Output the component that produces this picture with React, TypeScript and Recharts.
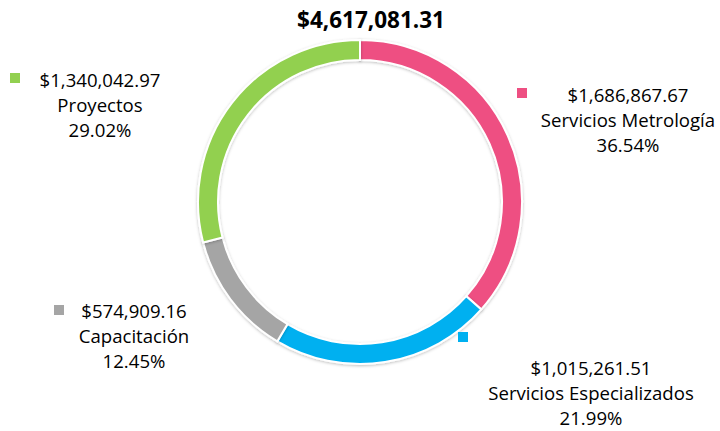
import { PieChart, Pie, Cell } from 'recharts';

const CATEGORIES = ['Servicios Metrología', 'Servicios Especializados', 'Capacitación', 'Proyectos'];
const AMOUNTS = [1686867.67, 1015261.51, 574909.16, 1340042.97];
const COLORS = ['#EE4F82', '#00B0F0', '#A5A5A5', '#92D050'];

// where Excel left each data label (key square + centred text block)
const LABEL_SPOTS = [
  { kx: 517, ky: 88, tx: 628, ty: 102 },
  { kx: 458, ky: 332, tx: 591, ty: 375 },
  { kx: 54, ky: 305, tx: 134, ty: 318 },
  { kx: 10, ky: 73, tx: 100, ty: 87 },
];

const FONT = '"Open Sans", "Liberation Sans", sans-serif';

const money = (v: number) =>
  '$' + v.toLocaleString('en-US', { minimumFractionDigits: 2, maximumFractionDigits: 2 });

const total = AMOUNTS.reduce((a, b) => a + b, 0);

const data = CATEGORIES.map((c, i) => ({ name: c, value: AMOUNTS[i] }));

function renderLabel(props: any) {
  const i = props.index;
  const spot = LABEL_SPOTS[i];
  const pct = ((AMOUNTS[i] / total) * 100).toFixed(2) + '%';
  return (
    <g key={'lbl' + i}>
      <rect x={spot.kx} y={spot.ky} width={10} height={10} fill={COLORS[i]} />
      <text
        x={spot.tx}
        y={spot.ty}
        textAnchor="middle"
        fill="#000"
        style={{ fontFamily: FONT, fontSize: 18.6 }}
      >
        <tspan x={spot.tx} dy={0}>{money(AMOUNTS[i])}</tspan>
        <tspan x={spot.tx} dy={25}>{CATEGORIES[i]}</tspan>
        <tspan x={spot.tx} dy={25}>{pct}</tspan>
      </text>
    </g>
  );
}

export default function App() {
  return (
    <div style={{ position: 'absolute', left: 0, top: 0, width: 720, height: 431, background: '#fff' }}>
      <PieChart width={720} height={431} margin={{ top: 0, right: 0, bottom: 0, left: 0 }}>
        <defs>
          <filter id="ringShadow" x="-10%" y="-10%" width="120%" height="120%">
            <feDropShadow dx="0" dy="1" stdDeviation="1.5" floodColor="#000" floodOpacity="0.25" />
          </filter>
        </defs>
        <text
          x={371}
          y={28}
          textAnchor="middle"
          fill="#000"
          style={{ fontFamily: FONT, fontSize: 22.5, fontWeight: 700 }}
        >
          {money(total)}
        </text>
        <Pie
          data={data}
          dataKey="value"
          nameKey="name"
          cx={360}
          cy={202}
          innerRadius={142}
          outerRadius={162}
          startAngle={90}
          endAngle={-270}
          stroke="#fff"
          strokeWidth={2}
          filter="url(#ringShadow)"
          label={renderLabel}
          labelLine={false}
          isAnimationActive={false}
        >
          {data.map((d, i) => (
            <Cell key={d.name} fill={COLORS[i]} />
          ))}
        </Pie>
      </PieChart>
    </div>
  );
}
